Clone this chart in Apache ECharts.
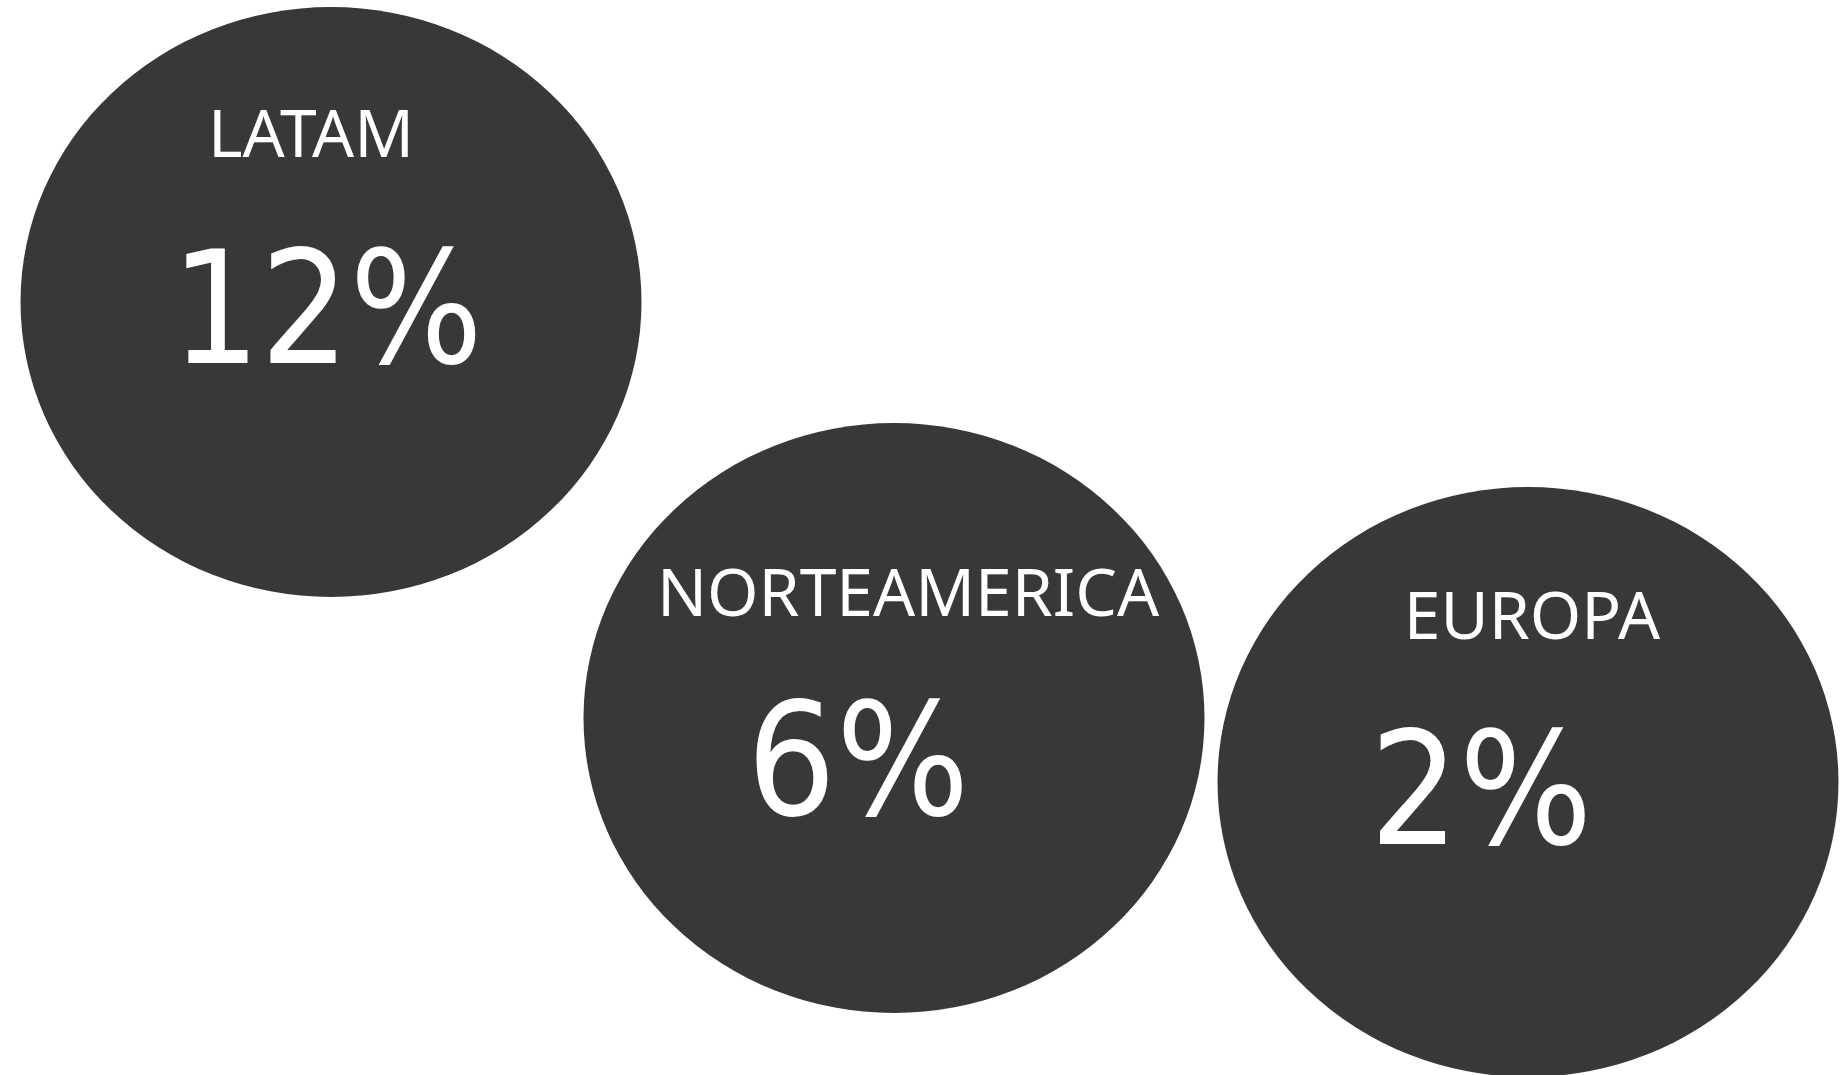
<!DOCTYPE html>
<html>
<head>
<meta charset="utf-8">
<script src="https://cdn.jsdelivr.net/npm/echarts@6/dist/echarts.min.js"></script>
<style>
  html, body { margin: 0; padding: 0; background: #ffffff; }
  #chart { width: 1843px; height: 1075px; }
</style>
</head>
<body>
<div id="chart"></div>
<script>
// data
var regions = ['LATAM', 'NORTEAMERICA', 'EUROPA'];
var shares = [12, 6, 2];

// layout of the bubbles (page pixels, y grows downward)
var bubbleX = [331, 894, 1528];
var bubbleY = [302, 718, 782];
var bubbleSize = [621, 590];
var nameOffsets = [[-20, -164], [14, -121], [4, -162]];
var valueOffsets = [[-4, 20], [-36, 56], [-47, 21]];

var chart = echarts.init(document.getElementById('chart'));

function points(offsets) {
    return regions.map(function (r, i) {
        return {
            name: r,
            value: [bubbleX[i], bubbleY[i], shares[i]],
            label: { offset: offsets[i] }
        };
    });
}

var option = {
    animation: false,
    grid: { left: 0, right: 0, top: 0, bottom: 0 },
    xAxis: { type: 'value', min: 0, max: 1843, show: false },
    yAxis: { type: 'value', min: 0, max: 1075, inverse: true, show: false },
    series: [
        {
            type: 'scatter',
            symbol: 'circle',
            symbolSize: bubbleSize,
            itemStyle: { color: '#383838', opacity: 1 },
            data: regions.map(function (r, i) { return [bubbleX[i], bubbleY[i], shares[i]]; }),
            z: 1
        },
        {
            // region names
            type: 'scatter',
            symbolSize: 0,
            silent: true,
            itemStyle: { opacity: 1 },
            data: points(nameOffsets),
            label: {
                show: true,
                position: 'inside',
                formatter: '{b}',
                color: '#ffffff',
                opacity: 1,
                textBorderWidth: 0,
                fontFamily: 'Noto Sans',
                fontSize: 66
            },
            z: 2
        },
        {
            // percentages
            type: 'scatter',
            symbolSize: 0,
            silent: true,
            itemStyle: { opacity: 1 },
            data: points(valueOffsets),
            label: {
                show: true,
                position: 'inside',
                formatter: function (p) { return p.value[2] + '%'; },
                color: '#ffffff',
                opacity: 1,
                textBorderWidth: 0,
                fontFamily: 'DejaVu Sans Condensed',
                fontSize: 156
            },
            z: 2
        }
    ]
};

chart.setOption(option);
</script>
</body>
</html>
